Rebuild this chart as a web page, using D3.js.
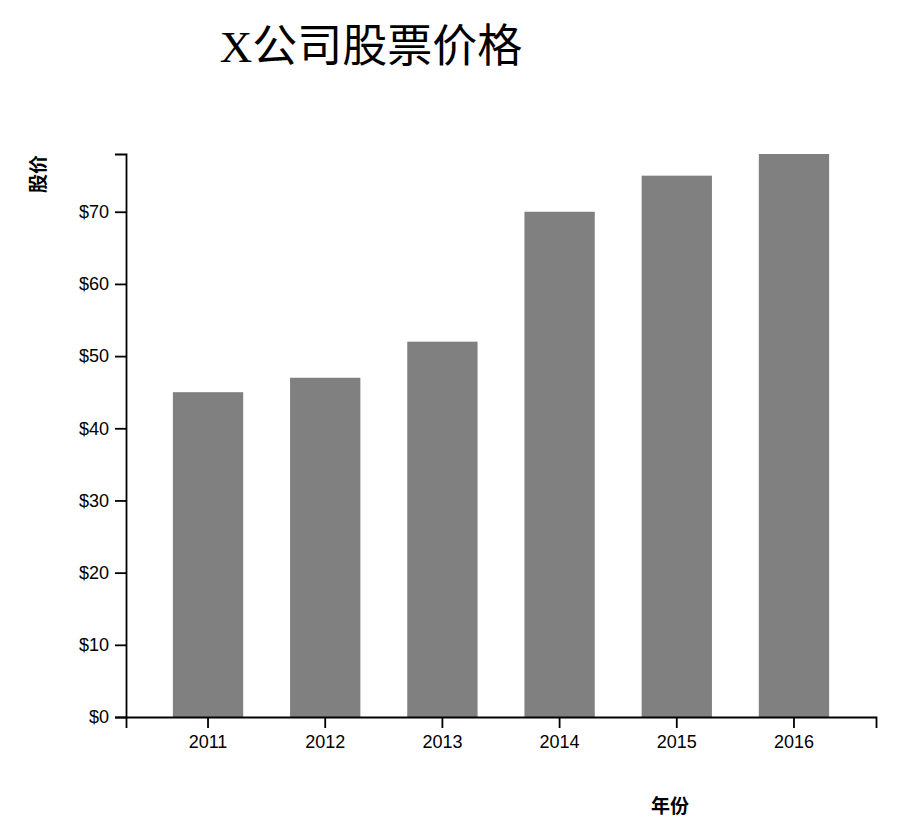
<!DOCTYPE html>
<html lang="zh">
<head>
    <meta charset="UTF-8">
    <title>X公司股票价格</title>
    <script src="https://d3js.org/d3.v7.min.js"></script>
    <style>
        html, body {
            padding: 0;
            margin: 0;
            background-color: white;
        }
        svg {
            display: block;
        }
    </style>
</head>
<body>
<script>
    // данные графика
    const years = ["2011", "2012", "2013", "2014", "2015", "2016"];
    const prices = [45, 47, 52, 70, 75, 78];
    const yTicks = [0, 10, 20, 30, 40, 50, 60, 70];

    const width = 906;
    const height = 835;
    const margin = {top: 154, right: 30, bottom: 118, left: 126};

    const svg = d3.select("body")
        .append("svg")
        .attr("width", width)
        .attr("height", height);

    const x = d3.scaleBand()
        .domain(years)
        .range([margin.left, width - margin.right])
        .padding(0.4);

    const y = d3.scaleLinear()
        .domain([0, d3.max(prices)])
        .range([height - margin.bottom, margin.top]);

    // заголовок
    svg.append("text")
        .attr("x", 371)
        .attr("y", 62)
        .attr("text-anchor", "middle")
        .style("font-family", "'Liberation Serif', 'Noto Sans CJK SC', serif")
        .style("font-size", "45px")
        .text("X公司股票价格");

    // столбцы
    svg.append("g")
        .selectAll("rect")
        .data(prices)
        .join("rect")
        .attr("x", (d, i) => x(years[i]))
        .attr("y", d => y(d))
        .attr("width", x.bandwidth())
        .attr("height", d => y(0) - y(d))
        .attr("fill", "grey");

    const xAxis = svg.append("g")
        .attr("transform", `translate(0,${height - margin.bottom})`)
        .call(d3.axisBottom(x).tickSize(11).tickPadding(7));

    const yAxis = svg.append("g")
        .attr("transform", `translate(${margin.left},0)`)
        .call(d3.axisLeft(y).tickValues(yTicks).tickFormat(d => "$" + d).tickSize(11).tickPadding(6));

    [xAxis, yAxis].forEach(a => {
        a.selectAll("text")
            .style("font-family", "'Liberation Sans', Arial, sans-serif")
            .style("font-size", "18px")
            .attr("fill", "black");
        a.selectAll("path, line").attr("stroke", "black").attr("stroke-width", 1.8);
    });

    // подписи осей
    svg.append("text")
        .attr("transform", "translate(36,174) rotate(-90)")
        .attr("text-anchor", "middle")
        .attr("dominant-baseline", "central")
        .style("font-family", "'Noto Sans CJK SC', sans-serif")
        .style("font-weight", "bold")
        .style("font-size", "19px")
        .text("股价");

    svg.append("text")
        .attr("x", 670)
        .attr("y", 804)
        .attr("text-anchor", "middle")
        .attr("dominant-baseline", "central")
        .style("font-family", "'Noto Sans CJK SC', sans-serif")
        .style("font-weight", "bold")
        .style("font-size", "19px")
        .text("年份");
</script>
</body>
</html>
